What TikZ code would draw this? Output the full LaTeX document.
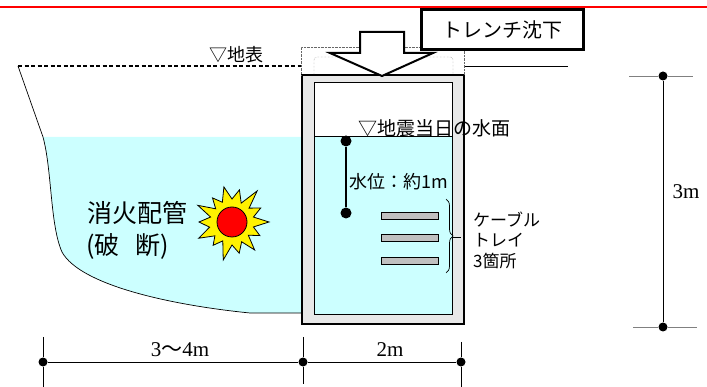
\documentclass[tikz,border=0pt]{standalone}
\usepackage{fontspec}
\setmainfont{Liberation Serif}
\newfontfamily\jp{Noto Sans CJK JP}
\usetikzlibrary{decorations.pathreplacing}

\definecolor{water}{HTML}{CCFFFF}
\definecolor{wall}{HTML}{E8E8E8}
\definecolor{tray}{HTML}{C0C0C0}

\tikzset{
  dimdot/.style={circle,fill=black,inner sep=0pt,minimum size=9pt},
  gaugedot/.style={circle,fill=black,inner sep=0pt,minimum size=11pt},
  traybox/.style={draw,fill=tray,line width=0.8pt,minimum width=57pt,minimum height=7pt,inner sep=0pt},
  jlabel/.style={font=\jp\fontsize{18}{20}\selectfont,inner sep=0pt,anchor=west},
  dimlabel/.style={font=\fontsize{21}{24}\selectfont,inner sep=0pt},
}

\begin{document}
\begin{tikzpicture}[x=1pt,y=-1pt]
  \useasboundingbox (0,0) rectangle (707,387);

  % red rule along the top
  \draw[red,line width=2.5pt] (0,7) -- (707,7);

  % ground water around the trench
  \fill[water] (43,137) .. controls (52,170) and (50,225) .. (62,252)
    .. controls (80,285) and (170,305) .. (250,313) -- (303,313) -- (303,137) -- cycle;
  \draw[line width=0.7pt] (18,66) -- (43,137) .. controls (52,170) and (50,225) .. (62,252)
    .. controls (80,285) and (170,305) .. (250,313) -- (303,313);

  % ground surface
  \coordinate (gl0) at (18,66);
  \coordinate (gl1) at (301,66);
  \coordinate (gl2) at (465,66);
  \coordinate (gl3) at (568,66);
  \draw[dash pattern=on 4pt off 2.5pt,line width=1.4pt] (gl0) -- (gl1);
  \draw[line width=0.7pt] (gl2) -- (gl3);
  \node[jlabel] (surf) at (209,55) {▽地表};

  % trench (walls, inside, water)
  \draw[fill=wall,line width=1.2pt] (302,75) rectangle (464,324);
  \draw[fill=white,line width=1pt] (314,83) rectangle (452,315);
  \draw[fill=water,line width=1pt] (314,137) rectangle (452,315);

  % settled lid
  \draw[densely dotted,gray!80!black] (301,75) -- (301,47) -- (464,47) -- (464,75);
  \draw[densely dotted,gray!80!black,rounded corners=3pt] (314,75) -- (314,57) -- (453,57) -- (453,75);
  \draw[fill=white,line width=2pt,line join=miter]
    (360,32) -- (404,32) -- (404,53) -- (433,53) -- (382,76) -- (330,53) -- (360,53) -- cycle;
  \node[draw,line width=3pt,fill=white,minimum width=162pt,minimum height=40pt,inner sep=0pt,
    font=\jp\fontsize{20}{22}\selectfont] (sink) at (502,30) {トレンチ沈下};

  % water level inside
  \node[jlabel,font=\jp\fontsize{19}{20}\selectfont] (wlev) at (358,128) {▽地震当日の水面};
  \node[gaugedot] (wtop) at (346,141) {};
  \node[gaugedot] (wbot) at (346,213) {};
  \draw[line width=2.2pt] (wtop) -- (wbot);
  \node[jlabel] (depth) at (349,182) {水位：約1m};

  % cable trays
  \node[traybox] (tray1) at (410,216) {};
  \node[traybox] (tray2) at (410,238) {};
  \node[traybox] (tray3) at (410,261) {};
  \draw[decorate,decoration={brace,amplitude=7pt},line width=0.7pt] (446,199) -- (446,273);
  \coordinate (brtip) at (453,237);
  \coordinate (brend) at (461,237);
  \draw[line width=0.7pt] (brtip) -- (brend);
  \node[jlabel,font=\jp\fontsize{17}{20.5}\selectfont,align=left] (trays) at (473,240)
    {ケーブル\\トレイ\\3箇所};

  % broken fire main
  \coordinate (leak) at (232,222);
  \draw[fill=yellow,line width=0.8pt,shift={(leak)}] (0:37pt)
    \foreach \a/\r in {13/22,26/32,39/22,51/40,64/21,77/33,90/23,103/36,116/22,
      129/31,141/21,154/38,167/22,180/33,193/23,206/37,219/22,231/30,244/21,
      257/39,270/23,283/32,296/22,309/36,321/21,334/31,347/22} { -- (\a:\r pt) } -- cycle;
  \node[circle,draw,line width=0.8pt,fill=red,minimum size=30pt,inner sep=0pt] (pipe) at (leak) {};
  \node[jlabel,font=\jp\fontsize{25}{28}\selectfont] (pipe1) at (87,213) {消火配管};
  \node[jlabel,font=\jp\fontsize{25}{28}\selectfont] (pipe2) at (86,246) {(破\hspace{0.65em}断)};

  % depth dimension
  \node[dimdot] (h1) at (663,76) {};
  \node[dimdot] (h2) at (663,327) {};
  \draw[line width=0.8pt] (h1) -- (h2);
  \draw[gray,line width=0.8pt] (629,76) -- (h1) -- (693,76);
  \draw[gray,line width=0.8pt] (633,327) -- (h2) -- (697,327);
  \node[dimlabel] (hlab) at (686,192) {3m};

  % width dimensions
  \node[dimdot] (w1) at (43,362) {};
  \node[dimdot] (w2) at (303,362) {};
  \node[dimdot] (w3) at (461,362) {};
  \draw[line width=0.8pt] (w1) -- (w2) -- (w3);
  \draw[line width=0.7pt] (43,337) -- (w1) -- (43,387);
  \draw[line width=0.7pt] (303,337) -- (w2) -- (303,384);
  \draw[line width=0.7pt] (461,342) -- (w3) -- (461,387);
  \node[dimlabel] (wlab1) at (180,350) {3{\jp 〜}4m};
  \node[dimlabel] (wlab2) at (390,350) {2m};
\end{tikzpicture}
\end{document}
